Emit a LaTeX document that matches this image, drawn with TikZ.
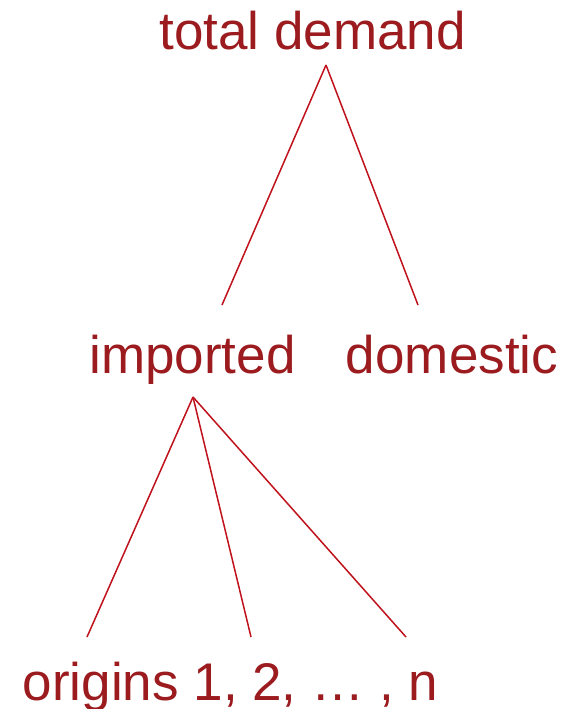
\documentclass[tikz,border=0pt]{standalone}
\usepackage{fontspec}
\setmainfont{Liberation Sans}
\usepackage{xcolor}
\usepackage{tikz}
\definecolor{Wine}{HTML}{9B1B1F}
\definecolor{Line}{HTML}{C0121C}

\begin{document}
\begin{tikzpicture}[x=1pt,y=-1pt]
  \useasboundingbox (0,0) rectangle (564,709);
  \tikzset{lbl/.style={Wine,anchor=base,inner sep=0pt,font=\fontsize{53}{60}\selectfont},
           branch/.style={Line,line width=1.5pt}}
  \node[lbl] (total) at (312.5,50) {total demand};
  \node[lbl] (imp) at (192.5,373) {imported};
  \node[lbl] (dom) at (452,373) {domestic};
  \node[lbl] (orig) at (230.5,700) {origins 1, 2, … , n};
  % branch points
  \coordinate (totalroot) at (326,65);
  \coordinate (imptop) at (222,305);
  \coordinate (domtop) at (418,305);
  \coordinate (improot) at (193,397);
  \coordinate (o1) at (87,637);
  \coordinate (o2) at (251,637);
  \coordinate (on) at (406,637);
  \draw[branch] (totalroot) -- (imptop);
  \draw[branch] (totalroot) -- (domtop);
  \draw[branch] (improot) -- (o1);
  \draw[branch] (improot) -- (o2);
  \draw[branch] (improot) -- (on);
\end{tikzpicture}
\end{document}
